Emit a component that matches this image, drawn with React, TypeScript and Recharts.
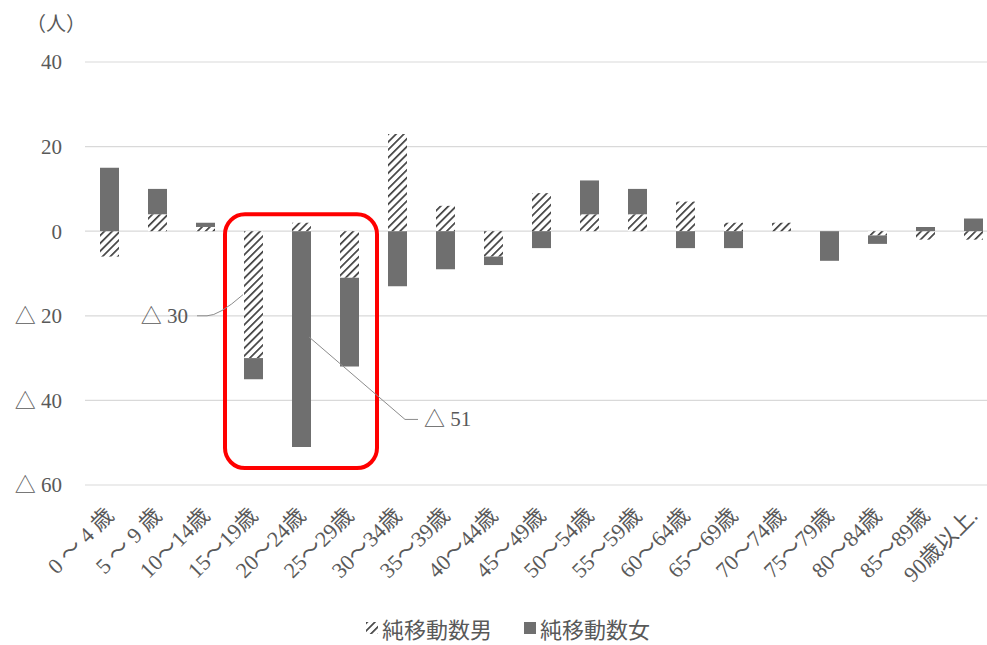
import React from "react";
import {
  BarChart,
  Bar,
  XAxis,
  YAxis,
  CartesianGrid,
  Legend,
  ReferenceArea,
  ReferenceLine,
} from "recharts";

// 年齢階級
const ageGroups = [
  "0 ～ 4 歳",
  "5 ～ 9 歳",
  "10～14歳",
  "15～19歳",
  "20～24歳",
  "25～29歳",
  "30～34歳",
  "35～39歳",
  "40～44歳",
  "45～49歳",
  "50～54歳",
  "55～59歳",
  "60～64歳",
  "65～69歳",
  "70～74歳",
  "75～79歳",
  "80～84歳",
  "85～89歳",
  "90歳以上.",
];

// 純移動数（人）
const maleNet = [-6, 4, 1, -30, 2, -11, 23, 6, -6, 9, 4, 4, 7, 2, 2, 0, -1, -2, -2];
const femaleNet = [15, 6, 1, -5, -51, -21, -13, -9, -2, -4, 8, 6, -4, -4, 0, -7, -2, 1, 3];

const yTicks = [-60, -40, -20, 0, 20, 40];

const data = ageGroups.map((name, i) => ({
  name,
  male: maleNet[i],
  female: femaleNet[i],
}));

const FONT = '"Liberation Serif", "Noto Sans CJK JP", serif';
const TEXT = "#595959";
const FEMALE = "#6f6f6f";

const fmtY = (v: number) => (v < 0 ? `△ ${Math.abs(v)}` : `${v}`);

const XTick = (props: any) => {
  const { x, y, payload } = props;
  const tx = x + 6;
  const ty = y + 24;
  return (
    <text
      x={tx}
      y={ty}
      transform={`rotate(-45 ${tx} ${ty})`}
      textAnchor="end"
      fill={TEXT}
      fontSize={22}
      fontFamily={FONT}
    >
      {payload.value}
    </text>
  );
};

const HighlightBox = (props: any) => {
  const { x, y, width, height } = props;
  const pad = 4;
  return (
    <rect
      x={x - pad}
      y={y}
      width={width + pad * 2}
      height={height}
      rx={20}
      ry={20}
      fill="none"
      stroke="#ff0000"
      strokeWidth={4}
    />
  );
};

const Leader30 = (props: any) => {
  const { x1, y1, x2, y2 } = props;
  return (
    <g>
      <path
        d={`M ${x1 - 8} ${y1} L ${x1 + 2} ${y1} Q ${x1 + 14} ${y1} ${x2 - 10} ${y2}`}
        fill="none"
        stroke="#8c8c8c"
        strokeWidth={1}
      />
      <text
        x={x1 - 17}
        y={y1 + 7}
        textAnchor="end"
        fill={TEXT}
        fontSize={21}
        fontFamily={FONT}
      >
        △ 30
      </text>
    </g>
  );
};

const Leader51 = (props: any) => {
  const { x1, y1, x2, y2 } = props;
  return (
    <g>
      <path
        d={`M ${x1 + 8} ${y1} L ${x2 + 8} ${y2} L ${x2 + 21} ${y2}`}
        fill="none"
        stroke="#8c8c8c"
        strokeWidth={1}
      />
      <text
        x={x2 + 27}
        y={y2 + 7}
        textAnchor="start"
        fill={TEXT}
        fontSize={21}
        fontFamily={FONT}
      >
        △ 51
      </text>
    </g>
  );
};

const LegendContent = () => (
  <div
    style={{
      display: "flex",
      alignItems: "center",
      fontFamily: FONT,
      fontSize: 22,
      color: TEXT,
      height: 30,
    }}
  >
    <svg width={12} height={12} style={{ marginRight: 4 }}>
      <rect width={12} height={12} fill="url(#hatchMale)" />
    </svg>
    <span>純移動数男</span>
    <svg width={12} height={12} style={{ marginLeft: 32, marginRight: 4 }}>
      <rect width={12} height={12} fill={FEMALE} />
    </svg>
    <span>純移動数女</span>
  </div>
);

export default function App() {
  return (
    <div
      style={{
        position: "absolute",
        left: 0,
        top: 0,
        width: 987,
        height: 645,
        overflow: "hidden",
        background: "#fff",
      }}
    >
      <svg width={0} height={0} style={{ position: "absolute" }}>
        <defs>
          <pattern
            id="hatchMale"
            patternUnits="userSpaceOnUse"
            width={5.5}
            height={5.5}
            patternTransform="rotate(45)"
          >
            <rect width={5.5} height={5.5} fill="#fff" />
            <line x1={0} y1={0} x2={0} y2={5.5} stroke="#3f3f3f" strokeWidth={3.4} />
          </pattern>
        </defs>
      </svg>
      <div
        style={{
          position: "absolute",
          left: 26,
          top: 8,
          fontFamily: FONT,
          fontSize: 20,
          color: TEXT,
        }}
      >
        （人）
      </div>
      <BarChart
        width={1000}
        height={645}
        data={data}
        stackOffset="sign"
        margin={{ top: 62, right: 3, bottom: 0, left: 0 }}
        barSize={19}
      >
        <CartesianGrid vertical={false} stroke="#d9d9d9" strokeWidth={1.2} />
        <XAxis
          dataKey="name"
          interval={0}
          axisLine={false}
          tickLine={false}
          height={130}
          tick={<XTick />}
        />
        <YAxis
          domain={[-60, 40]}
          ticks={yTicks}
          width={85}
          axisLine={false}
          tickLine={false}
          tickSize={0}
          tickMargin={23}
          tickFormatter={fmtY}
          tick={{ fill: TEXT, fontSize: 21, fontFamily: FONT }}
        />
        <Bar
          dataKey="male"
          name="純移動数男"
          stackId="a"
          fill="url(#hatchMale)"
          isAnimationActive={false}
        />
        <Bar
          dataKey="female"
          name="純移動数女"
          stackId="a"
          fill={FEMALE}
          isAnimationActive={false}
        />
        <ReferenceArea
          x1="15～19歳"
          x2="25～29歳"
          y1={4}
          y2={-56}
          ifOverflow="visible"
          shape={<HighlightBox />}
        />
        <ReferenceLine
          segment={[
            { x: "10～14歳", y: -20 },
            { x: "15～19歳", y: -15 },
          ]}
          ifOverflow="visible"
          shape={<Leader30 />}
        />
        <ReferenceLine
          segment={[
            { x: "20～24歳", y: -25 },
            { x: "30～34歳", y: -44.5 },
          ]}
          ifOverflow="visible"
          shape={<Leader51 />}
        />
        <Legend
          verticalAlign="bottom"
          height={30}
          wrapperStyle={{ left: 366, width: 330, bottom: 2 }}
          content={<LegendContent />}
        />
      </BarChart>
    </div>
  );
}
